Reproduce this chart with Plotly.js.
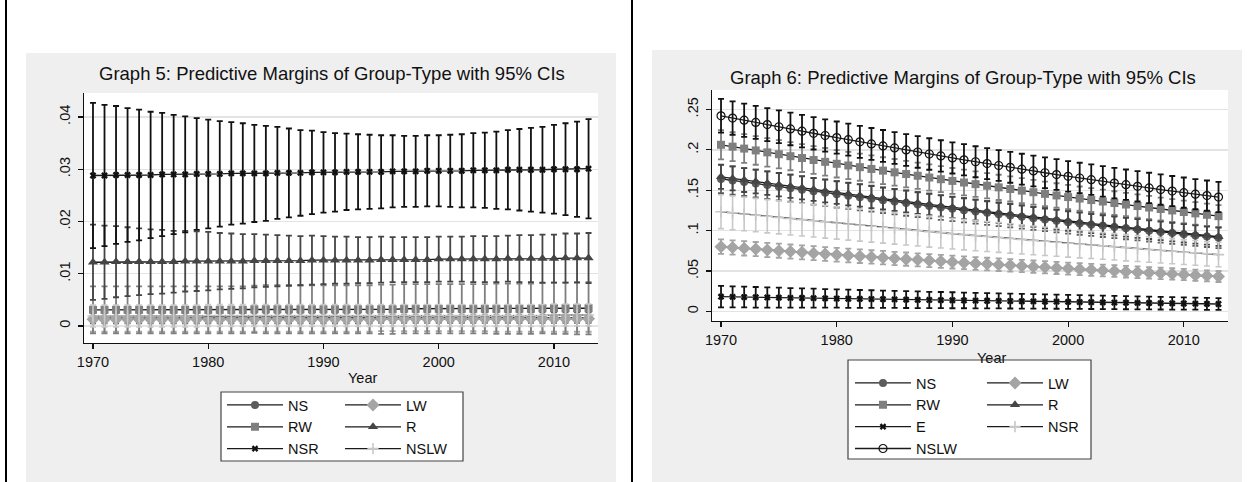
<!DOCTYPE html>
<html>
<head>
<meta charset="utf-8">
<script src="https://cdn.plot.ly/plotly-3.0.1.min.js"></script>
<style>
html,body{margin:0;padding:0;background:#fff;}
#chart{width:1251px;height:482px;}
</style>
</head>
<body>
<div id="chart"></div>
<script>
// ---------------- DATA ----------------
const years = [1970,1971,1972,1973,1974,1975,1976,1977,1978,1979,
  1980,1981,1982,1983,1984,1985,1986,1987,1988,1989,
  1990,1991,1992,1993,1994,1995,1996,1997,1998,1999,
  2000,2001,2002,2003,2004,2005,2006,2007,2008,2009,
  2010,2011,2012,2013];

const g5Title = "Graph 5: Predictive Margins of Group-Type with 95% CIs";
const g6Title = "Graph 6: Predictive Margins of Group-Type with 95% CIs";
const xTitle = "Year";
const xTickVals = [1970,1980,1990,2000,2010];
const g5YTickVals = [0,0.01,0.02,0.03,0.04];
const g5YTickText = ["0",".01",".02",".03",".04"];
const g6YTickVals = [0,0.05,0.1,0.15,0.2,0.25];
const g6YTickText = ["0",".05",".1",".15",".2",".25"];

// Graph 5 (means and 95% CI half-widths)
const g5_NS_mean = [.0015,.0015,.0015,.0015,.0015,.0015,.0015,.0015,.0015,.0015,
  .0015,.0015,.0015,.0015,.0015,.0015,.0015,.0015,.0015,.0015,
  .0015,.0015,.0015,.0015,.0015,.0016,.0016,.0016,.0016,.0016,
  .0016,.0016,.0016,.0016,.0016,.0016,.0016,.0016,.0016,.0016,
  .0016,.0016,.0016,.0016];
const g5_NS_ci = [.0010,.0010,.0010,.0010,.0010,.0010,.0010,.0010,.0010,.0010,
  .0010,.0010,.0010,.0010,.0010,.0010,.0010,.0010,.0010,.0010,
  .0010,.0010,.0010,.0010,.0010,.0010,.0010,.0010,.0010,.0010,
  .0010,.0010,.0010,.0010,.0010,.0010,.0010,.0010,.0010,.0010,
  .0010,.0010,.0010,.0010];
const g5_LW_mean = [.0013,.0013,.0013,.0013,.0013,.0013,.0013,.0013,.0013,.0013,
  .0013,.0013,.0013,.0013,.0013,.0013,.0013,.0013,.0013,.0013,
  .0013,.0013,.0013,.0013,.0013,.0014,.0014,.0014,.0014,.0014,
  .0014,.0014,.0014,.0014,.0014,.0014,.0014,.0014,.0014,.0014,
  .0014,.0014,.0014,.0014];
const g5_LW_ci = [.0024,.0024,.0024,.0024,.0024,.0024,.0024,.0024,.0024,.0024,
  .0024,.0024,.0024,.0024,.0024,.0024,.0024,.0024,.0024,.0024,
  .0024,.0024,.0024,.0024,.0024,.0024,.0024,.0024,.0024,.0024,
  .0024,.0024,.0024,.0024,.0024,.0025,.0025,.0025,.0025,.0025,
  .0025,.0025,.0025,.0025];
const g5_RW_mean = [.0031,.0031,.0031,.0031,.0031,.0031,.0031,.0031,.0031,.0031,
  .0031,.0031,.0031,.0031,.0032,.0032,.0032,.0032,.0032,.0032,
  .0032,.0032,.0032,.0032,.0032,.0032,.0032,.0033,.0033,.0033,
  .0033,.0033,.0033,.0033,.0033,.0033,.0033,.0033,.0033,.0034,
  .0034,.0034,.0034,.0034];
const g5_RW_ci = [.0045,.0045,.0045,.0045,.0045,.0045,.0045,.0045,.0045,.0045,
  .0045,.0045,.0045,.0045,.0045,.0046,.0046,.0046,.0046,.0046,
  .0046,.0046,.0046,.0046,.0046,.0047,.0047,.0047,.0047,.0047,
  .0047,.0047,.0047,.0047,.0047,.0048,.0048,.0048,.0048,.0048,
  .0049,.0049,.0050,.0050];
const g5_R_mean = [.0122,.0122,.0123,.0123,.0123,.0123,.0123,.0123,.0124,.0124,
  .0124,.0124,.0124,.0124,.0125,.0125,.0125,.0125,.0125,.0126,
  .0126,.0126,.0126,.0126,.0126,.0127,.0127,.0127,.0127,.0127,
  .0128,.0128,.0128,.0128,.0128,.0128,.0129,.0129,.0129,.0129,
  .0129,.0130,.0130,.0130];
const g5_R_ci = [.0072,.0070,.0068,.0066,.0064,.0062,.0061,.0059,.0058,.0057,
  .0056,.0054,.0053,.0052,.0051,.0050,.0049,.0048,.0047,.0047,
  .0046,.0045,.0045,.0044,.0044,.0044,.0043,.0043,.0043,.0043,
  .0043,.0043,.0043,.0044,.0044,.0044,.0044,.0045,.0045,.0046,
  .0046,.0047,.0047,.0048];
const g5_NSR_mean = [.0288,.0288,.0289,.0289,.0289,.0289,.0290,.0290,.0290,.0291,
  .0291,.0291,.0292,.0292,.0292,.0292,.0293,.0293,.0293,.0294,
  .0294,.0294,.0295,.0295,.0295,.0295,.0296,.0296,.0296,.0297,
  .0297,.0297,.0297,.0298,.0298,.0298,.0299,.0299,.0299,.0299,
  .0300,.0300,.0300,.0301];
const g5_NSR_ci = [.0139,.0135,.0132,.0128,.0125,.0121,.0118,.0114,.0111,.0107,
  .0104,.0101,.0098,.0096,.0093,.0091,.0088,.0085,.0082,.0080,
  .0077,.0075,.0073,.0072,.0071,.0070,.0069,.0068,.0068,.0068,
  .0068,.0069,.0070,.0071,.0072,.0074,.0076,.0078,.0080,.0082,
  .0085,.0088,.0091,.0095];
const g5_NSLW_mean = [.0019,.0019,.0019,.0019,.0019,.0019,.0019,.0019,.0019,.0019,
  .0020,.0020,.0020,.0020,.0020,.0020,.0020,.0020,.0020,.0020,
  .0020,.0020,.0020,.0020,.0020,.0020,.0020,.0020,.0020,.0020,
  .0020,.0020,.0020,.0020,.0020,.0020,.0020,.0020,.0020,.0020,
  .0021,.0021,.0021,.0021];
const g5_NSLW_ci = [.0021,.0021,.0021,.0021,.0021,.0021,.0021,.0021,.0021,.0021,
  .0021,.0021,.0021,.0021,.0021,.0021,.0021,.0021,.0021,.0021,
  .0021,.0021,.0021,.0021,.0021,.0021,.0021,.0021,.0021,.0021,
  .0021,.0021,.0021,.0021,.0021,.0021,.0021,.0021,.0021,.0021,
  .0021,.0021,.0021,.0021];

// Graph 6 (means and 95% CI half-widths)
const g6_NS_mean = [.1640,.1621,.1602,.1583,.1564,.1545,.1526,.1507,.1488,.1469,
  .1450,.1432,.1414,.1396,.1378,.1360,.1342,.1324,.1306,.1288,
  .1270,.1254,.1237,.1221,.1204,.1188,.1171,.1155,.1138,.1122,
  .1105,.1090,.1075,.1060,.1045,.1030,.1015,.1000,.0985,.0970,
  .0955,.0941,.0927,.0913];
const g6_NS_ci = [.0175,.0174,.0173,.0172,.0170,.0169,.0168,.0167,.0166,.0165,
  .0163,.0162,.0161,.0160,.0159,.0158,.0157,.0155,.0154,.0153,
  .0152,.0151,.0150,.0149,.0147,.0146,.0145,.0144,.0143,.0142,
  .0141,.0140,.0139,.0138,.0137,.0136,.0135,.0134,.0133,.0132,
  .0131,.0130,.0129,.0128];
const g6_LW_mean = [.0802,.0792,.0782,.0772,.0762,.0752,.0742,.0732,.0722,.0712,
  .0703,.0693,.0684,.0675,.0666,.0657,.0648,.0639,.0630,.0621,
  .0612,.0604,.0595,.0587,.0579,.0571,.0563,.0555,.0547,.0539,
  .0531,.0523,.0516,.0508,.0501,.0493,.0486,.0479,.0472,.0465,
  .0457,.0449,.0441,.0433];
const g6_LW_ci = [.0090,.0089,.0089,.0088,.0088,.0087,.0087,.0086,.0086,.0085,
  .0085,.0084,.0084,.0083,.0083,.0082,.0082,.0081,.0081,.0080,
  .0080,.0079,.0079,.0078,.0078,.0077,.0077,.0076,.0076,.0075,
  .0075,.0074,.0074,.0073,.0073,.0072,.0072,.0071,.0071,.0070,
  .0070,.0069,.0069,.0068];
const g6_RW_mean = [.2063,.2040,.2016,.1993,.1969,.1946,.1922,.1899,.1875,.1852,
  .1828,.1807,.1786,.1764,.1743,.1722,.1701,.1680,.1658,.1637,
  .1616,.1596,.1576,.1556,.1536,.1516,.1496,.1476,.1456,.1436,
  .1416,.1398,.1379,.1361,.1342,.1324,.1305,.1287,.1268,.1250,
  .1231,.1214,.1197,.1180];
const g6_RW_ci = [.0180,.0179,.0178,.0177,.0176,.0175,.0174,.0173,.0172,.0171,
  .0170,.0169,.0168,.0167,.0166,.0165,.0164,.0163,.0162,.0161,
  .0160,.0159,.0158,.0157,.0156,.0155,.0154,.0153,.0152,.0151,
  .0150,.0149,.0148,.0147,.0146,.0145,.0144,.0143,.0142,.0141,
  .0140,.0139,.0138,.0137];
const g6_R_mean = [.1667,.1647,.1627,.1608,.1588,.1569,.1549,.1530,.1510,.1491,
  .1472,.1453,.1435,.1416,.1398,.1379,.1361,.1342,.1324,.1306,
  .1288,.1271,.1254,.1237,.1220,.1203,.1186,.1169,.1152,.1136,
  .1119,.1104,.1088,.1073,.1057,.1042,.1027,.1012,.0997,.0982,
  .0967,.0953,.0939,.0925];
const g6_R_ci = [.0150,.0149,.0148,.0147,.0146,.0145,.0144,.0143,.0142,.0141,
  .0140,.0139,.0138,.0137,.0136,.0135,.0134,.0133,.0132,.0131,
  .0130,.0129,.0128,.0127,.0126,.0125,.0124,.0123,.0122,.0121,
  .0120,.0119,.0118,.0117,.0116,.0116,.0115,.0115,.0114,.0114,
  .0113,.0113,.0112,.0112];
const g6_E_mean = [.0183,.0181,.0179,.0176,.0174,.0172,.0169,.0167,.0165,.0163,
  .0160,.0158,.0156,.0154,.0152,.0150,.0147,.0145,.0143,.0141,
  .0139,.0137,.0135,.0133,.0131,.0129,.0127,.0125,.0123,.0121,
  .0119,.0117,.0115,.0113,.0111,.0109,.0107,.0105,.0103,.0101,
  .0099,.0097,.0095,.0093];
const g6_E_ci = [.0133,.0131,.0129,.0127,.0125,.0123,.0121,.0119,.0117,.0115,
  .0113,.0112,.0110,.0109,.0107,.0106,.0104,.0103,.0101,.0100,
  .0099,.0097,.0096,.0095,.0093,.0092,.0091,.0090,.0088,.0087,
  .0086,.0085,.0084,.0083,.0082,.0081,.0080,.0079,.0078,.0077,
  .0076,.0075,.0074,.0073];
const g6_NSR_mean = [.1235,.1221,.1207,.1193,.1179,.1165,.1151,.1137,.1123,.1109,
  .1095,.1082,.1069,.1055,.1042,.1029,.1016,.1003,.0989,.0976,
  .0963,.0951,.0939,.0928,.0916,.0904,.0892,.0880,.0869,.0857,
  .0845,.0834,.0823,.0812,.0801,.0790,.0779,.0768,.0757,.0746,
  .0735,.0725,.0714,.0704];
const g6_NSR_ci = [.0210,.0209,.0208,.0207,.0206,.0205,.0204,.0203,.0202,.0201,
  .0200,.0199,.0198,.0197,.0196,.0195,.0194,.0193,.0192,.0191,
  .0190,.0188,.0187,.0185,.0184,.0182,.0180,.0178,.0176,.0174,
  .0172,.0170,.0168,.0166,.0164,.0163,.0161,.0159,.0157,.0156,
  .0154,.0153,.0151,.0150];
const g6_NSLW_mean = [.2422,.2394,.2367,.2340,.2313,.2286,.2259,.2232,.2205,.2178,
  .2152,.2126,.2100,.2074,.2049,.2024,.1999,.1974,.1949,.1925,
  .1901,.1877,.1853,.1830,.1807,.1784,.1761,.1739,.1717,.1695,
  .1673,.1652,.1631,.1610,.1589,.1569,.1549,.1529,.1509,.1490,
  .1471,.1452,.1434,.1416];
const g6_NSLW_ci = [.0208,.0207,.0206,.0205,.0204,.0203,.0202,.0201,.0200,.0200,
  .0199,.0198,.0198,.0197,.0197,.0196,.0196,.0195,.0195,.0194,
  .0193,.0193,.0192,.0192,.0191,.0191,.0191,.0190,.0190,.0190,
  .0189,.0189,.0189,.0189,.0188,.0188,.0188,.0188,.0188,.0187,
  .0187,.0187,.0187,.0187];

// ---------------- STYLE ----------------
const W = 1251, H = 482;
const FONT = '"Liberation Sans", Arial, Helvetica, sans-serif';
const px = v => v / W;
const py = v => (H - v) / H;
const LINE = '#1a1a1a';

const styles = {
  NS:   {symbol:'circle', size:8, color:'#5c5c5c', th:1.8},
  LW:   {symbol:'diamond', size:10, color:'#a4a4a4', th:1.8},
  RW:   {symbol:'square', size:8, color:'#7f7f7f', th:1.8},
  R:    {symbol:'triangle-up', size:9, color:'#454545', th:1.8},
  X:    {symbol:'x', size:6, color:'#111111', th:1.8},
  PLUS: {symbol:'cross-thin-open', size:8, color:'#c8c8c8', lw:1.6, th:1.6},
  OC:   {symbol:'circle-open', size:8, color:'#111111', lw:1.2, th:1.8}
};

function mk(name, mean, ci, st, xa, ya, leg) {
  const marker = {symbol: st.symbol, size: st.size, color: st.color};
  if (st.lw) marker.line = {color: st.color, width: st.lw};
  else marker.line = {width: 0};
  return {
    type:'scatter', mode:'lines+markers', name: name,
    x: years, y: mean, xaxis: xa, yaxis: ya, legend: leg,
    line: {color: LINE, width: 1.3},
    marker: marker,
    error_y: {type:'data', array: ci, symmetric: true, color: st.color, thickness: st.th, width: 3},
    hoverinfo: 'x+y+name'
  };
}

const traces = [
  mk('NS',   g5_NS_mean,   g5_NS_ci,   styles.NS,   'x', 'y', 'legend'),
  mk('LW',   g5_LW_mean,   g5_LW_ci,   styles.LW,   'x', 'y', 'legend2'),
  mk('RW',   g5_RW_mean,   g5_RW_ci,   styles.RW,   'x', 'y', 'legend'),
  mk('R',    g5_R_mean,    g5_R_ci,    styles.R,    'x', 'y', 'legend2'),
  mk('NSR',  g5_NSR_mean,  g5_NSR_ci,  styles.X,    'x', 'y', 'legend'),
  mk('NSLW', g5_NSLW_mean, g5_NSLW_ci, styles.PLUS, 'x', 'y', 'legend2'),

  mk('NS',   g6_NS_mean,   g6_NS_ci,   styles.NS,   'x2', 'y2', 'legend3'),
  mk('LW',   g6_LW_mean,   g6_LW_ci,   styles.LW,   'x2', 'y2', 'legend4'),
  mk('RW',   g6_RW_mean,   g6_RW_ci,   styles.RW,   'x2', 'y2', 'legend3'),
  mk('R',    g6_R_mean,    g6_R_ci,    styles.R,    'x2', 'y2', 'legend4'),
  mk('E',    g6_E_mean,    g6_E_ci,    styles.X,    'x2', 'y2', 'legend3'),
  mk('NSR',  g6_NSR_mean,  g6_NSR_ci,  styles.PLUS, 'x2', 'y2', 'legend4'),
  mk('NSLW', g6_NSLW_mean, g6_NSLW_ci, styles.OC,   'x2', 'y2', 'legend3')
];

const tickFont = {family: FONT, size: 14.5, color: '#111'};

function xaxisCfg(domain, anchor) {
  return {
    domain: domain, anchor: anchor, range: [1969.22, 2013.82],
    tickmode: 'array', tickvals: xTickVals,
    ticks: 'outside', ticklen: 5, tickwidth: 1.2, tickcolor: '#111',
    showline: true, linecolor: '#111', linewidth: 1.2,
    showgrid: false, zeroline: false, mirror: false,
    tickfont: tickFont, ticklabelstandoff: 0,
    automargin: false, fixedrange: true
  };
}
function yaxisCfg(domain, anchor, range, tv, tt) {
  return {
    domain: domain, anchor: anchor, range: range,
    tickmode: 'array', tickvals: tv, ticktext: tt, tickangle: -90,
    ticks: 'outside', ticklen: 5, tickwidth: 1.2, tickcolor: '#111',
    showline: true, linecolor: '#111', linewidth: 1.2,
    showgrid: true, gridcolor: '#e3e3e3', gridwidth: 1.3,
    zeroline: false, mirror: false,
    tickfont: tickFont, ticklabelstandoff: 2,
    automargin: false, fixedrange: true
  };
}

function legendCfg(xLeft, yTop) {
  return {
    x: px(xLeft), y: py(yTop), xanchor: 'left', yanchor: 'top',
    orientation: 'v', bgcolor: 'rgba(0,0,0,0)', borderwidth: 0,
    font: {family: FONT, size: 14.5, color: '#111'},
    itemwidth: 56, tracegroupgap: 0, itemclick: false, itemdoubleclick: false
  };
}

const layout = {
  width: W, height: H,
  margin: {l: 0, r: 0, t: 0, b: 0, pad: 0},
  paper_bgcolor: '#ffffff', plot_bgcolor: '#ffffff',
  font: {family: FONT, color: '#111'},
  showlegend: true,
  xaxis:  xaxisCfg([px(84), px(598)], 'y'),
  yaxis:  yaxisCfg([py(343), py(93)], 'x', [-0.003254, 0.04459], g5YTickVals, g5YTickText),
  xaxis2: xaxisCfg([px(712), px(1228)], 'y2'),
  yaxis2: yaxisCfg([py(321), py(90)], 'x2', [-0.01176, 0.2741], g6YTickVals, g6YTickText),
  legend:  legendCfg(222, 389),
  legend2: legendCfg(340, 389),
  legend3: legendCfg(850, 367),
  legend4: legendCfg(982, 367),
  annotations: [
    {text: g5Title, xref: 'paper', yref: 'paper', x: px(332), y: py(73),
     xanchor: 'center', yanchor: 'middle', showarrow: false,
     font: {family: FONT, size: 18.5, color: '#111'}},
    {text: g6Title, xref: 'paper', yref: 'paper', x: px(963), y: py(77),
     xanchor: 'center', yanchor: 'middle', showarrow: false,
     font: {family: FONT, size: 18.5, color: '#111'}},
    {text: xTitle, xref: 'paper', yref: 'paper', x: px(363), y: py(378),
     xanchor: 'center', yanchor: 'middle', showarrow: false,
     font: {family: FONT, size: 14.5, color: '#111'}},
    {text: xTitle, xref: 'paper', yref: 'paper', x: px(991), y: py(358),
     xanchor: 'center', yanchor: 'middle', showarrow: false,
     font: {family: FONT, size: 14.5, color: '#111'}}
  ],
  shapes: [
    {type: 'rect', xref: 'paper', yref: 'paper', x0: px(26), x1: px(616), y0: 0, y1: py(53),
     fillcolor: '#efefef', line: {width: 0}, layer: 'below'},
    {type: 'rect', xref: 'paper', yref: 'paper', x0: px(652), x1: px(1242), y0: 0, y1: py(50),
     fillcolor: '#efefef', line: {width: 0}, layer: 'below'},
    {type: 'rect', xref: 'x domain', yref: 'y domain', x0: 0, x1: 1, y0: 0, y1: 1,
     fillcolor: '#ffffff', line: {width: 0}, layer: 'below'},
    {type: 'rect', xref: 'x2 domain', yref: 'y2 domain', x0: 0, x1: 1, y0: 0, y1: 1,
     fillcolor: '#ffffff', line: {width: 0}, layer: 'below'},
    {type: 'line', xref: 'paper', yref: 'paper', x0: px(6), x1: px(6), y0: 0, y1: 1,
     line: {color: '#000', width: 2}, layer: 'above'},
    {type: 'line', xref: 'paper', yref: 'paper', x0: px(632), x1: px(632), y0: 0, y1: 1,
     line: {color: '#000', width: 2}, layer: 'above'},
    {type: 'rect', xref: 'paper', yref: 'paper', x0: px(221), x1: px(463), y0: py(461), y1: py(392),
     fillcolor: '#ffffff', line: {color: '#444', width: 1.2}, layer: 'above'},
    {type: 'rect', xref: 'paper', yref: 'paper', x0: px(848), x1: px(1091), y0: py(459), y1: py(360),
     fillcolor: '#ffffff', line: {color: '#444', width: 1.2}, layer: 'above'}
  ]
};

Plotly.newPlot('chart', traces, layout, {displayModeBar: false, staticPlot: true});
</script>
</body>
</html>
